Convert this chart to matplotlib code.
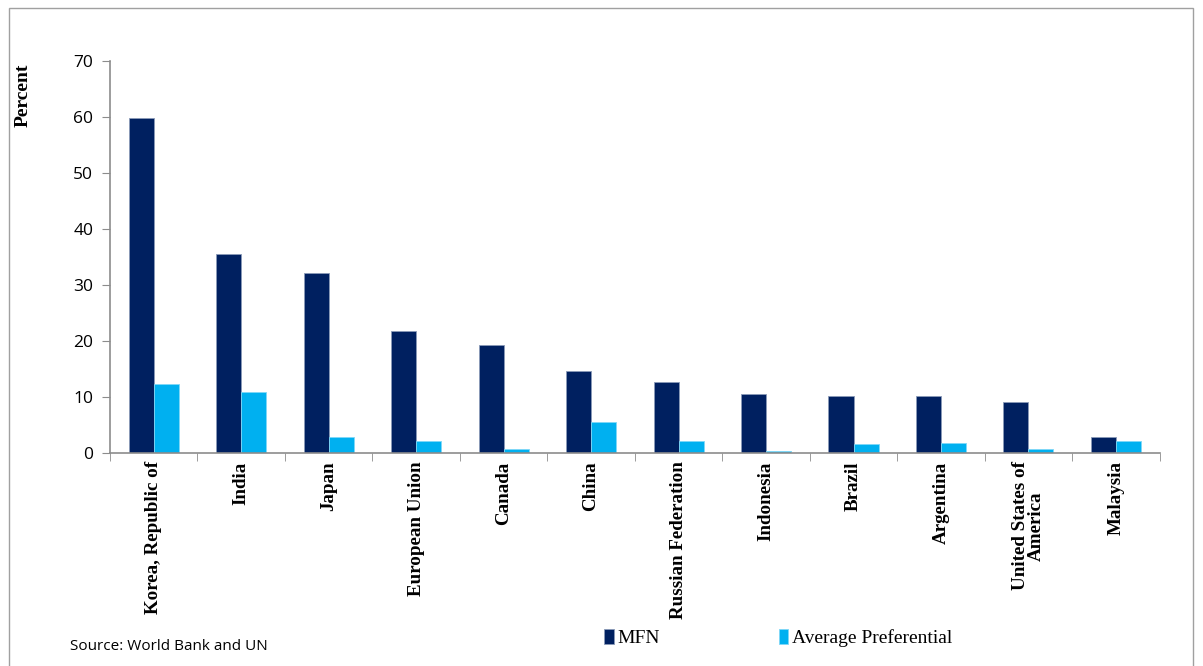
import matplotlib
matplotlib.use("Agg")
import matplotlib.pyplot as plt
import numpy as np
from matplotlib.patches import Rectangle

# Tariff averages by economy (percent)
countries = ["Korea, Republic of", "India", "Japan", "European Union", "Canada",
             "China", "Russian Federation", "Indonesia", "Brazil", "Argentina",
             "United States of\nAmerica", "Malaysia"]
mfn = [59.8, 35.5, 32.1, 21.8, 19.3, 14.6, 12.7, 10.5, 10.2, 10.2, 9.1, 2.9]
preferential = [12.3, 10.9, 2.9, 2.1, 0.7, 5.5, 2.1, 0.4, 1.6, 1.8, 0.7, 2.1]
yticks = [0, 10, 20, 30, 40, 50, 60, 70]

navy = "#002060"
sky = "#00B0F0"
axis_grey = "#8c8c8c"
serif = ["Liberation Serif", "DejaVu Serif"]

fig = plt.figure(figsize=(12.03, 6.66), dpi=100)
ax = fig.add_axes([0.0914, 0.3198, 0.8726, 0.5886])

x = np.arange(len(countries))
w = 0.286
ax.bar(x - w / 2, mfn, w, color=navy, edgecolor="#8a9ab8", linewidth=0.6,
       label="MFN", zorder=2)
ax.bar(x + w / 2, preferential, w, color=sky, edgecolor="#7fd8f7", linewidth=0.6,
       label="Average Preferential", zorder=2)

ax.set_xlim(-0.5, len(countries) - 0.5)
ax.set_ylim(0, 70)
ax.set_yticks(yticks)
ax.set_yticklabels([str(t) for t in yticks], fontsize=12.5, family="Open Sans")

# category labels sit between boundary tick marks
ax.set_xticks(x)
ax.set_xticklabels(countries, rotation=90, fontsize=13.7, fontweight="bold",
                   family=serif, va="top", ha="center", linespacing=0.9)
ax.tick_params(axis="x", length=0, pad=6)
ax.set_xticks(np.arange(len(countries) + 1) - 0.5, minor=True)
ax.tick_params(axis="x", which="minor", length=6, color=axis_grey, direction="out")
ax.tick_params(axis="y", length=6, color=axis_grey, direction="out", pad=6)

for side in ("top", "right"):
    ax.spines[side].set_visible(False)
for side in ("left", "bottom"):
    ax.spines[side].set_color(axis_grey)
    ax.spines[side].set_linewidth(1.2)

fig.text(0.019, 0.857, "Percent", rotation=90, fontsize=14, fontweight="bold",
         family=serif, ha="center", va="center")

handles, labels = ax.get_legend_handles_labels()
fig.legend(handles, labels, loc="center", bbox_to_anchor=(0.647, 0.042), ncol=2,
           frameon=False, prop={"family": serif, "size": 14},
           handlelength=0.5, handleheight=0.8, handletextpad=0.2,
           columnspacing=6.1)

fig.text(0.058, 0.030, "Source: World Bank and UN", fontsize=11,
         family="Open Sans", ha="left", va="center")

# thin outline around the chart area
fig.patches.append(Rectangle((0.0075, -0.01), 0.984, 0.998, transform=fig.transFigure,
                             fill=False, edgecolor="#a0a0a0", linewidth=1.0))

fig.savefig("out.png", dpi=100)
